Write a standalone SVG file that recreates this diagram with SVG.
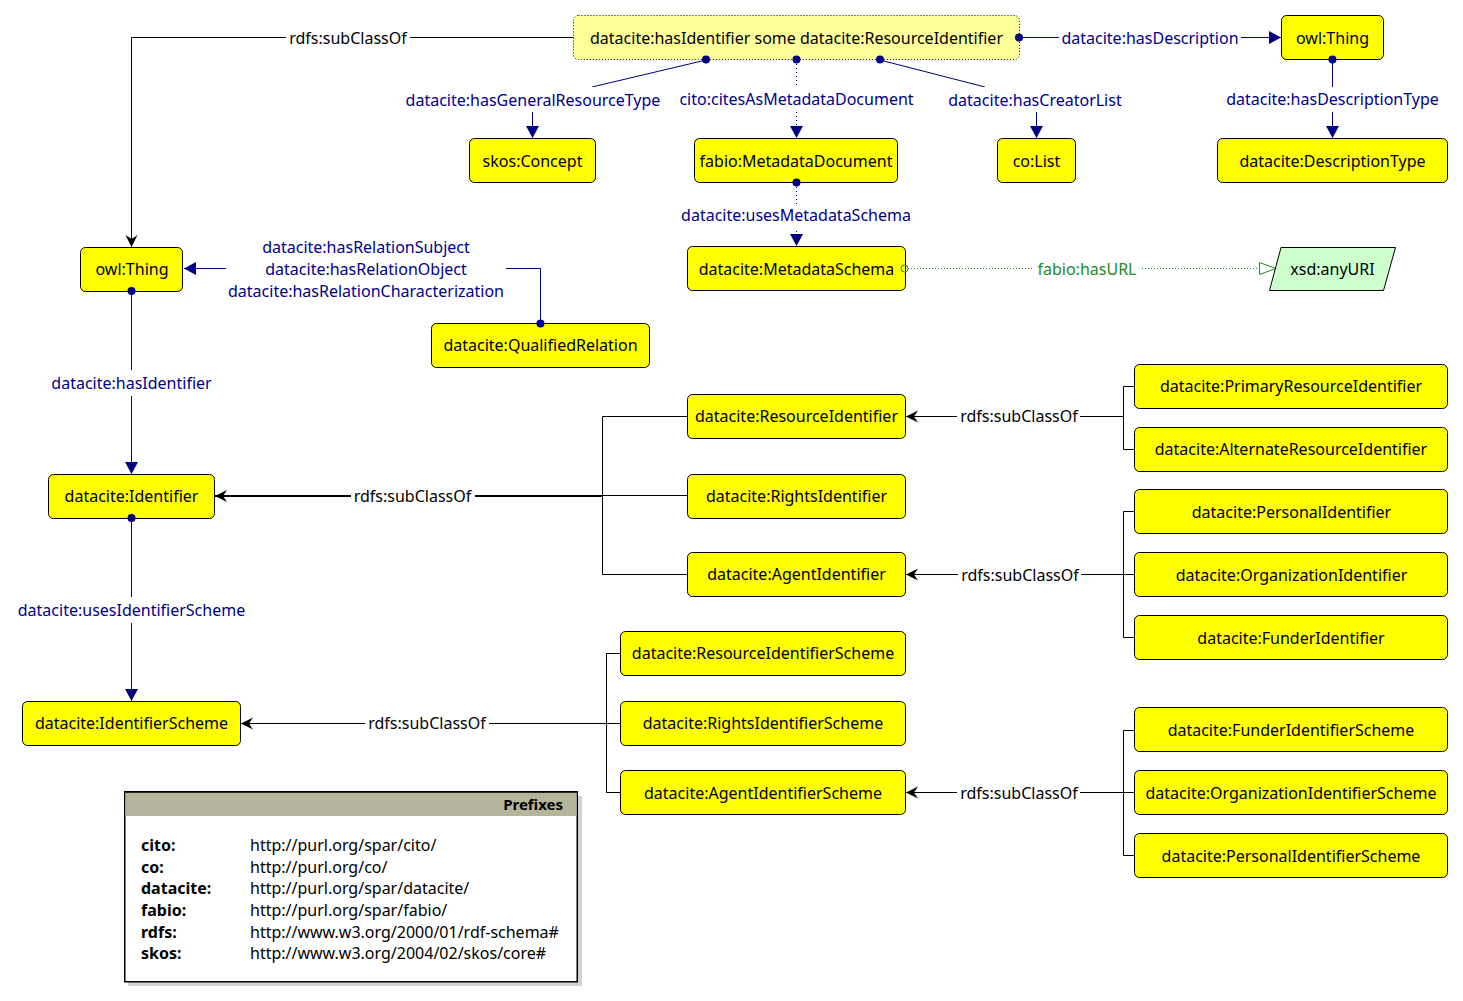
<svg xmlns="http://www.w3.org/2000/svg" width="1463" height="1001" viewBox="0 0 1463 1001">
<style>
text{font-family:"Noto Sans",sans-serif;font-size:16px;fill:#000;text-anchor:middle}
.n rect{fill:#ffff00;stroke:#000;stroke-width:1}
.b{fill:#00008b}
.g{fill:#228b22}
.l{text-anchor:start}
.h{font-weight:bold}
.k,.o,.od,.gd{fill:none}
.k{stroke:#000;stroke-width:1}
.o{stroke:#000080;stroke-width:1}
.od{stroke:#000080;stroke-width:1;stroke-dasharray:1 3}
.gd{stroke:#228b22;stroke-width:1;stroke-dasharray:1 2}
</style>
<defs>
<marker id="ab" markerUnits="userSpaceOnUse" markerWidth="14" markerHeight="14" refX="12" refY="7" orient="auto"><path d="M0 .5L12 7L0 13.500Z" fill="#000080"/></marker>
<marker id="ak" markerUnits="userSpaceOnUse" markerWidth="14" markerHeight="14" refX="12" refY="7" orient="auto"><path d="M0 1L12 7L0 13L4 7Z" fill="#000"/></marker>
<marker id="ag" markerUnits="userSpaceOnUse" markerWidth="19" markerHeight="15" refX="17" refY="7.500" orient="auto"><path d="M.5 1.500L17 7.500L.5 13.500Z" fill="#fff" stroke="#228b22"/></marker>
</defs>

<g id="connectors">
<path class="k" d="M574 37.500H131.500V247" marker-end="url(#ak)"/>
<path class="o" d="M706 60L592 87"/>
<path class="o" d="M532.500 112V138" marker-end="url(#ab)"/>
<path class="od" d="M796.500 60V138" marker-end="url(#ab)"/>
<path class="o" d="M880 60L985 87"/>
<path class="o" d="M1036.500 112V138" marker-end="url(#ab)"/>
<path class="o" d="M1019 37.500H1281" marker-end="url(#ab)"/>
<path class="o" d="M1332.500 60V138" marker-end="url(#ab)"/>
<path class="od" d="M796.500 183V246" marker-end="url(#ab)"/>
<path class="gd" d="M905 268.500H1276" marker-end="url(#ag)"/>
<path class="o" d="M540.500 323V268.500H184" marker-end="url(#ab)"/>
<path class="o" d="M131.500 291V474" marker-end="url(#ab)"/>
<path class="o" d="M131.500 518V701" marker-end="url(#ab)"/>
<path class="k" style="stroke-width:2" d="M603 496H215" marker-end="url(#ak)"/>
<path class="k" d="M688 416.500H602.500V574.500H688M688 495.500H602.500"/>
<path class="k" d="M1135 386.500H1123.500V449.500H1135M1123.500 416.500H906" marker-end="url(#ak)"/>
<path class="k" d="M1135 511.500H1123.500V637.500H1135M1135 574.500H906" marker-end="url(#ak)"/>
<path class="k" d="M621 653.500H606.500V792.500H621M621 723.500H241" marker-end="url(#ak)"/>
<path class="k" d="M1135 730.500H1123.500V855.500H1135M1135 792.500H906" marker-end="url(#ak)"/>
</g>

<g id="edge-labels">
<rect x="286" y="26" width="124" height="24" fill="#fff"/><text x="348" y="44">rdfs:subClassOf</text>
<rect x="403" y="87" width="260" height="25" fill="#fff"/><text class="b" x="533" y="106">datacite:hasGeneralResourceType</text>
<rect x="677" y="87" width="239" height="25" fill="#fff"/><text class="b" x="796.500" y="105">cito:citesAsMetadataDocument</text>
<rect x="946" y="87" width="178" height="25" fill="#fff"/><text class="b" x="1035" y="106">datacite:hasCreatorList</text>
<rect x="1059" y="26" width="182" height="24" fill="#fff"/><text class="b" x="1150" y="44">datacite:hasDescription</text>
<rect x="1224" y="87" width="217" height="25" fill="#fff"/><text class="b" x="1332.500" y="105">datacite:hasDescriptionType</text>
<rect x="679" y="204" width="235" height="24" fill="#fff"/><text class="b" x="796" y="221">datacite:usesMetadataSchema</text>
<rect x="1034" y="257" width="106" height="24" fill="#fff"/><text class="g" x="1087" y="275">fabio:hasURL</text>
<rect x="226" y="236" width="280" height="68" fill="#fff"/>
<text class="b" x="366" y="253">datacite:hasRelationSubject</text>
<text class="b" x="366" y="275">datacite:hasRelationObject</text>
<text class="b" x="366" y="297">datacite:hasRelationCharacterization</text>
<rect x="48" y="370" width="167" height="26" fill="#fff"/><text class="b" x="131.500" y="389">datacite:hasIdentifier</text>
<rect x="15" y="597" width="233" height="26" fill="#fff"/><text class="b" x="131.500" y="616">datacite:usesIdentifierScheme</text>
<rect x="351" y="484" width="124" height="24" fill="#fff"/><text x="412.500" y="502">rdfs:subClassOf</text>
<rect x="957" y="404" width="123" height="24" fill="#fff"/><text x="1019" y="422">rdfs:subClassOf</text>
<rect x="958" y="563" width="123" height="24" fill="#fff"/><text x="1020" y="581">rdfs:subClassOf</text>
<rect x="365" y="711" width="124" height="24" fill="#fff"/><text x="427" y="729">rdfs:subClassOf</text>
<rect x="957" y="781" width="123" height="24" fill="#fff"/><text x="1019" y="799">rdfs:subClassOf</text>
</g>

<g id="anon-class"><rect x="573.500" y="15.500" width="446" height="44" rx="5" fill="#ffff99" stroke="#000" stroke-dasharray="1 2"/><text x="796.500" y="44">datacite:hasIdentifier some datacite:ResourceIdentifier</text></g>
<g id="owl-thing-1" class="n"><rect x="1281.500" y="15.500" width="102" height="44" rx="5"/><text x="1332.500" y="44">owl:Thing</text></g>
<g id="skos-concept" class="n"><rect x="469.500" y="138.500" width="126" height="44" rx="5"/><text x="532.500" y="167">skos:Concept</text></g>
<g id="fabio-metadatadocument" class="n"><rect x="694.500" y="138.500" width="203" height="44" rx="5"/><text x="796" y="167">fabio:MetadataDocument</text></g>
<g id="co-list" class="n"><rect x="997.500" y="138.500" width="78" height="44" rx="5"/><text x="1036.500" y="167">co:List</text></g>
<g id="descriptiontype" class="n"><rect x="1217.500" y="138.500" width="230" height="44" rx="5"/><text x="1332.500" y="167">datacite:DescriptionType</text></g>
<g id="metadataschema" class="n"><rect x="687.500" y="246.500" width="218" height="44" rx="5"/><text x="796.500" y="275">datacite:MetadataSchema</text></g>
<g id="xsd-anyuri"><path d="M1281 247.500H1395.500L1383.500 290.500H1269.500Z" fill="#ccffcc" stroke="#000"/><text x="1332.500" y="275">xsd:anyURI</text></g>
<g id="owl-thing-2" class="n"><rect x="80.500" y="247.500" width="102" height="44" rx="5"/><text x="132" y="275">owl:Thing</text></g>
<g id="qualifiedrelation" class="n"><rect x="431.500" y="323.500" width="218" height="44" rx="5"/><text x="540.500" y="351">datacite:QualifiedRelation</text></g>
<g id="identifier" class="n"><rect x="48.500" y="474.500" width="166" height="44" rx="5"/><text x="131.500" y="502">datacite:Identifier</text></g>
<g id="identifierscheme" class="n"><rect x="22.500" y="701.500" width="218" height="44" rx="5"/><text x="131.500" y="729">datacite:IdentifierScheme</text></g>
<g id="resourceidentifier" class="n"><rect x="687.500" y="394.500" width="218" height="44" rx="5"/><text x="796.500" y="422">datacite:ResourceIdentifier</text></g>
<g id="rightsidentifier" class="n"><rect x="687.500" y="474.500" width="218" height="44" rx="5"/><text x="796.500" y="502">datacite:RightsIdentifier</text></g>
<g id="agentidentifier" class="n"><rect x="687.500" y="552.500" width="218" height="44" rx="5"/><text x="796.500" y="580">datacite:AgentIdentifier</text></g>
<g id="primaryresourceidentifier" class="n"><rect x="1134.500" y="364.500" width="313" height="44" rx="5"/><text x="1291" y="392">datacite:PrimaryResourceIdentifier</text></g>
<g id="alternateresourceidentifier" class="n"><rect x="1134.500" y="427.500" width="313" height="44" rx="5"/><text x="1291" y="455">datacite:AlternateResourceIdentifier</text></g>
<g id="personalidentifier" class="n"><rect x="1134.500" y="489.500" width="313" height="44" rx="5"/><text x="1291.500" y="518">datacite:PersonalIdentifier</text></g>
<g id="organizationidentifier" class="n"><rect x="1134.500" y="552.500" width="313" height="44" rx="5"/><text x="1291.500" y="581">datacite:OrganizationIdentifier</text></g>
<g id="funderidentifier" class="n"><rect x="1134.500" y="615.500" width="313" height="44" rx="5"/><text x="1291" y="644">datacite:FunderIdentifier</text></g>
<g id="resourceidentifierscheme" class="n"><rect x="620.500" y="631.500" width="285" height="44" rx="5"/><text x="763" y="659">datacite:ResourceIdentifierScheme</text></g>
<g id="rightsidentifierscheme" class="n"><rect x="620.500" y="701.500" width="285" height="44" rx="5"/><text x="763" y="729">datacite:RightsIdentifierScheme</text></g>
<g id="agentidentifierscheme" class="n"><rect x="620.500" y="770.500" width="285" height="44" rx="5"/><text x="763" y="799">datacite:AgentIdentifierScheme</text></g>
<g id="funderidentifierscheme" class="n"><rect x="1134.500" y="707.500" width="313" height="44" rx="5"/><text x="1291" y="736">datacite:FunderIdentifierScheme</text></g>
<g id="organizationidentifierscheme" class="n"><rect x="1134.500" y="770.500" width="313" height="44" rx="5"/><text x="1291" y="799">datacite:OrganizationIdentifierScheme</text></g>
<g id="personalidentifierscheme" class="n"><rect x="1134.500" y="833.500" width="313" height="44" rx="5"/><text x="1291" y="862">datacite:PersonalIdentifierScheme</text></g>

<g id="dots" fill="#000080">
<circle cx="706" cy="59.500" r="4"/><circle cx="796.500" cy="59.500" r="4"/><circle cx="880" cy="59.500" r="4"/><circle cx="1019" cy="37.500" r="4"/><circle cx="1332.500" cy="59.500" r="4"/><circle cx="796.500" cy="182.500" r="4"/><circle cx="540.500" cy="323.500" r="4"/><circle cx="131.500" cy="291" r="4"/><circle cx="131.500" cy="518" r="4"/>
<circle cx="904.500" cy="268.500" r="3.500" fill="none" stroke="#228b22"/>
</g>

<g id="prefixes">
<rect x="128" y="796" width="454" height="190" fill="#d2d2d2"/>
<rect x="124.750" y="791.750" width="452.500" height="190" fill="#fff" stroke="#000" stroke-width="1.500"/>
<rect x="125.500" y="792.500" width="451" height="23.500" fill="#b5b59b"/>
<path d="M124 792H578" stroke="#000" stroke-width="1.500" fill="none"/>
<text class="h" x="563" y="810" style="text-anchor:end;font-size:15px">Prefixes</text>
<text class="l h" x="141" y="851">cito:</text><text class="l" x="250" y="851">http://purl.org/spar/cito/</text>
<text class="l h" x="141" y="873">co:</text><text class="l" x="250" y="873">http://purl.org/co/</text>
<text class="l h" x="141" y="894">datacite:</text><text class="l" x="250" y="894">http://purl.org/spar/datacite/</text>
<text class="l h" x="141" y="916">fabio:</text><text class="l" x="250" y="916">http://purl.org/spar/fabio/</text>
<text class="l h" x="141" y="938">rdfs:</text><text class="l" x="250" y="938">http://www.w3.org/2000/01/rdf-schema#</text>
<text class="l h" x="141" y="959">skos:</text><text class="l" x="250" y="959">http://www.w3.org/2004/02/skos/core#</text>
</g>
</svg>
